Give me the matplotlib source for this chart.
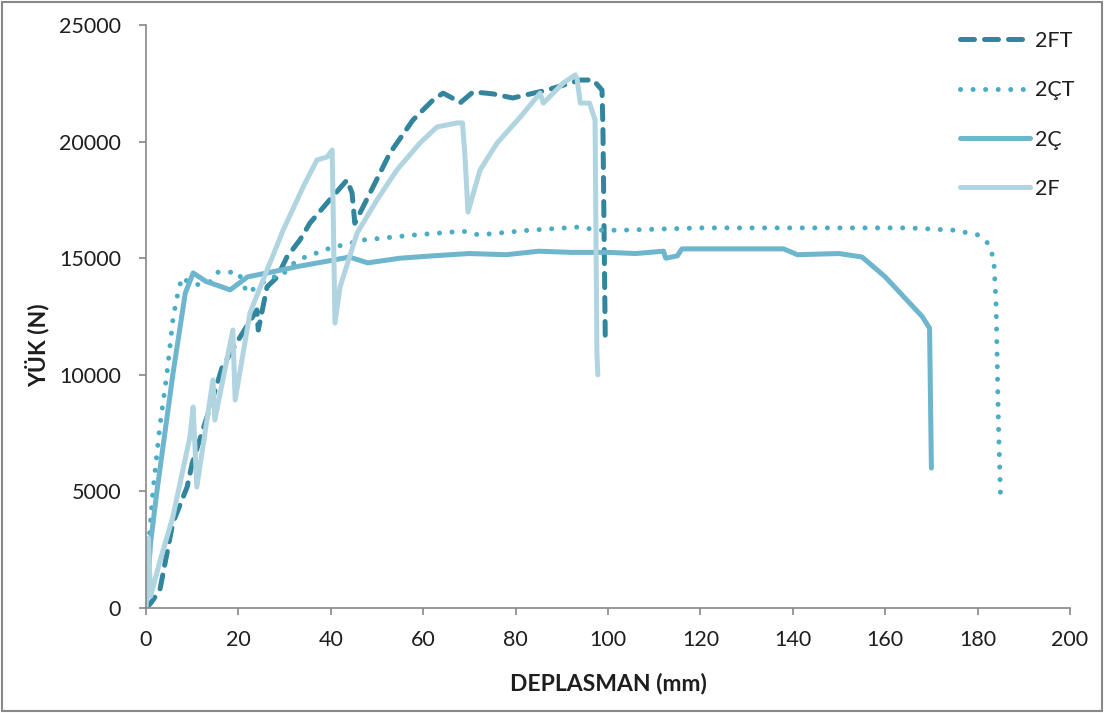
import matplotlib
matplotlib.use("Agg")
import matplotlib.pyplot as plt
from matplotlib.patches import Rectangle

plt.rcParams['font.family'] = ['Lato', 'DejaVu Sans']

# ---- data (displacement mm, load N) ----
ft_x = [0, 1.0, 3.0, 5.8, 8.9, 10.0, 13.2, 16.5, 20.0, 24.0, 24.3, 25.0, 26.2, 28.4, 30.5, 33.3, 35.5, 39.2, 43.5,
        44.6, 45.2, 48.5, 52.8, 57.8, 62.1, 64.3, 66.0, 68.0, 70.8, 75.0, 79.4, 86.8, 94.0, 96.8, 98.7, 98.9, 99.4]
ft_y = [0, 200, 770, 3640, 5190, 6200, 8190, 10330, 11500, 12780, 11920, 12600, 13770, 14190, 15050, 15780, 16510, 17370, 18350,
        17800, 16500, 17800, 19510, 20930, 21780, 22080, 21900, 21660, 22130, 22050, 21870, 22210, 22640, 22640, 22210, 20630, 11700]

ct_x = [0, 0.5, 1.5, 3.0, 4.5, 5.9, 7.0, 7.8, 9.0, 10.6, 12.0, 14.0, 15.6, 20.0, 21.9, 23.0, 27.0, 29.0, 32.7, 39.8,
        47.0, 57.8, 68.6, 72.0, 83.0, 94.0, 97.6, 102.6, 120.0, 140.0, 165.0, 175.0, 180.0, 182.0, 183.5, 184.0, 184.5, 185.0]
ct_y = [0, 2500, 5000, 7800, 10000, 12500, 13600, 14190, 14000, 13850, 13900, 14000, 14400, 14400, 13500, 13640, 14200, 14190, 14920, 15430,
        15780, 15990, 16160, 16000, 16200, 16340, 16200, 16200, 16300, 16300, 16300, 16200, 16000, 15700, 15000, 13000, 8000, 4500]

c_x = [0, 1.0, 2.4, 5.8, 8.5, 10.2, 13.0, 16.0, 18.2, 22.0, 27.0, 33.0, 40.0, 44.0, 48.0, 55.0, 62.0, 70.0, 78.0, 85.0,
       92.0, 100.0, 106.0, 112.0, 112.5, 115.0, 116.0, 125.0, 138.0, 141.0, 150.0, 155.0, 160.0, 168.0, 169.6, 170.0]
c_y = [0, 2800, 5060, 10000, 13500, 14370, 14000, 13800, 13640, 14200, 14400, 14650, 14900, 15050, 14800, 15000, 15100, 15200, 15150, 15300,
       15250, 15250, 15200, 15300, 15000, 15100, 15400, 15400, 15400, 15150, 15200, 15050, 14200, 12500, 12000, 6000]

f_x = [0, 0.5, 1.0, 3.0, 5.8, 9.5, 10.2, 11.0, 14.5, 14.9, 18.8, 19.3, 22.5, 26.2, 29.7, 34.0, 37.0, 39.2, 40.3, 40.9,
       42.0, 45.7, 50.0, 54.3, 59.3, 63.0, 67.3, 68.5, 69.0, 69.7, 72.3, 76.0, 81.0, 85.3, 86.0, 90.3, 92.9, 93.3, 94.0, 96.0, 97.2, 97.6, 97.8]
f_y = [0, 3000, 500, 2000, 3900, 7330, 8620, 5190, 9780, 8060, 11920, 8920, 12650, 14490, 16210, 18050, 19210, 19340, 19640, 12220,
       13770, 16080, 17500, 18780, 19940, 20630, 20800, 20800, 19500, 16980, 18780, 19940, 21050, 22080, 21650, 22510, 22860, 22700, 21650, 21650, 20930, 10930, 10000]

labels = ['2FT', '2ÇT', '2Ç', '2F']
x_ticks = list(range(0, 201, 20))
y_ticks = list(range(0, 25001, 5000))

W, H = 1104, 713
fig = plt.figure(figsize=(W / 100, H / 100), dpi=100)
ax = fig.add_axes([146 / W, 1 - 608 / H, (1070 - 146) / W, (608 - 25) / H])

lw = 3.6
ax.plot(ft_x, ft_y, color='#31859C', lw=lw, linestyle=(0, (2.8, 2.0)), dash_capstyle='round',
        solid_joinstyle='round', label=labels[0])
ax.plot(ct_x, ct_y, color='#4BACC6', lw=lw, linestyle=(0, (0.01, 2.5)), dash_capstyle='round', label=labels[1])
ax.plot(c_x, c_y, color='#6EB5CE', lw=lw, solid_capstyle='round', solid_joinstyle='round', label=labels[2])
ax.plot(f_x, f_y, color='#B0D4E0', lw=lw, solid_capstyle='round', solid_joinstyle='round', label=labels[3])

ax.set_xlim(0, 200)
ax.set_ylim(0, 25000)
ax.set_xticks(x_ticks)
ax.set_yticks(y_ticks)
ax.tick_params(axis='both', labelsize=15.5, colors='#888888', labelcolor='#1e1e1e', length=5, width=1.2, direction='out')
ax.tick_params(axis='x', pad=11)
ax.tick_params(axis='y', pad=13)
for s in ['top', 'right']:
    ax.spines[s].set_visible(False)
for s in ['left', 'bottom']:
    ax.spines[s].set_color('#888888')
    ax.spines[s].set_linewidth(1.2)

fig.text(608 / W, 1 - 683 / H, 'DEPLASMAN (mm)', fontsize=16.5, fontweight='bold', color='#1e1e1e',
         ha='center', va='center')
fig.text(37 / W, 1 - 345 / H, 'YÜK (N)', fontsize=16.5, fontweight='bold', color='#1e1e1e',
         ha='center', va='center', rotation=90)

leg = ax.legend(loc='upper left', bbox_to_anchor=(960 / W, 1 - 31 / H), bbox_transform=fig.transFigure,
                frameon=False, fontsize=15.5, borderaxespad=0, borderpad=0,
                handlelength=3.25, labelspacing=1.36, handletextpad=0.25)
for t in leg.get_texts():
    t.set_color('#1e1e1e')

fig.patches.append(Rectangle((0.002, 0.003), 0.996, 0.994, transform=fig.transFigure,
                             fill=False, edgecolor='#888888', linewidth=1.5))

fig.savefig('out.png', dpi=100)
